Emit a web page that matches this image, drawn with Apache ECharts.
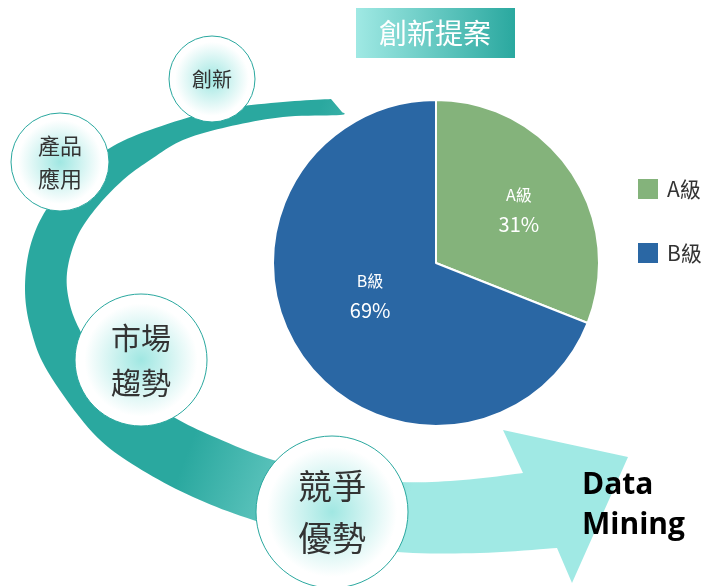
<!DOCTYPE html>
<html><head><meta charset="utf-8">
<script src="https://cdn.jsdelivr.net/npm/echarts@6/dist/echarts.min.js"></script>
<style>html,body{margin:0;padding:0;background:#fff}#c{width:711px;height:586px}</style>
</head><body><div id="c"></div>
<script>
// ---- data ----
const categories = ['A級', 'B級'];
const shares = [31, 69];
const titleText = '創新提案';
const bubbleLabels = ['創新', '產品\n應用', '市場\n趨勢', '競爭\n優勢'];
const arrowLabel = 'Data\nMining';

// ---- decorative layout ----
const FONT = '"Noto Sans CJK TC","Noto Sans CJK SC",sans-serif';
const bubbleLayout = [
  {x: 212, y: 79, r: 43, fs: 20, lh: 30},
  {x: 60, y: 162, r: 49, fs: 22, lh: 33},
  {x: 141, y: 360, r: 66, fs: 30, lh: 45},
  {x: 332, y: 512, r: 76, fs: 34, lh: 52}
];
const outerEdge = [[331,99],[283,102],[217,110],[150,130],[110,148],[75,175],[46,210],[30,247],[25,290],[31,330],[48,372],[93,433],[137,467],[193,497],[253,520],[325,540],[397,552],[480,553],[557,548]];
const arrowHead = [[572,583],[628,457],[503,430]];
const innerEdge = [[523,473],[463,480],[400,482],[335,474],[273,460],[212,436],[168,414],[130,388],[102,362],[82,334],[70,305],[67,273],[77,237],[97,207],[123,180],[150,160],[183,140],[227,127],[283,117],[340,115],[342,112]];

function splinePts(p) {
  const out = [p[0]];
  for (let i = 0; i < p.length - 1; i++) {
    const p0 = p[Math.max(i - 1, 0)], p1 = p[i], p2 = p[i + 1], p3 = p[Math.min(i + 2, p.length - 1)];
    const c1 = [p1[0] + (p2[0] - p0[0]) / 6, p1[1] + (p2[1] - p0[1]) / 6];
    const c2 = [p2[0] - (p3[0] - p1[0]) / 6, p2[1] - (p3[1] - p1[1]) / 6];
    for (let k = 1; k <= 10; k++) {
      const t = k / 10, u = 1 - t;
      out.push([
        u*u*u*p1[0] + 3*u*u*t*c1[0] + 3*u*t*t*c2[0] + t*t*t*p2[0],
        u*u*u*p1[1] + 3*u*u*t*c1[1] + 3*u*t*t*c2[1] + t*t*t*p2[1]
      ]);
    }
  }
  return out;
}
const shapePts = splinePts(outerEdge).concat(arrowHead, splinePts(innerEdge));

const graphics = [{
  type: 'polygon', z: 0,
  shape: {points: shapePts},
  style: {
    fill: {type: 'linear', x: 140, y: 420, x2: 400, y2: 520, global: true,
      colorStops: [{offset: 0, color: '#2aa89f'}, {offset: 0.2, color: '#2aa89f'}, {offset: 1, color: '#a0e9e4'}]}
  }
}];
bubbleLayout.forEach((b, i) => {
  graphics.push({
    type: 'circle', z: 10,
    shape: {cx: b.x, cy: b.y, r: b.r},
    style: {
      fill: {type: 'radial', x: 0.5, y: 0.5, r: 0.5,
        colorStops: [{offset: 0, color: '#a0e7e2'}, {offset: 0.85, color: '#ffffff'}, {offset: 1, color: '#ffffff'}]},
      stroke: '#2aa89f', lineWidth: 1
    }
  });
  graphics.push({
    type: 'text', z: 11, x: b.x, y: b.y,
    style: {text: bubbleLabels[i], fill: '#333', font: `${b.fs}px ${FONT}`,
      align: 'center', verticalAlign: 'middle', lineHeight: b.lh}
  });
});
graphics.push({
  type: 'text', z: 11, x: 582, y: 505,
  style: {text: arrowLabel, fill: '#000', font: 'bold 30px "Open Sans", "Noto Sans", sans-serif',
    align: 'left', verticalAlign: 'middle', lineHeight: 40}
});

const chart = echarts.init(document.getElementById('c'));
chart.setOption({
  backgroundColor: '#fff',
  animation: false,
  title: {
    text: titleText, left: 356, top: 8,
    padding: [10, 24, 10, 23],
    backgroundColor: {type: 'linear', x: 0, y: 0, x2: 1, y2: 0,
      colorStops: [{offset: 0, color: '#a0e9e4'}, {offset: 1, color: '#2aa89f'}]},
    textStyle: {color: '#fff', fontSize: 28, fontWeight: 'normal', fontFamily: FONT, lineHeight: 30}
  },
  legend: {
    orient: 'vertical', left: 631, top: 172,
    itemWidth: 22, itemHeight: 22, itemGap: 40, icon: 'rect',
    textStyle: {fontSize: 21, color: '#333', fontFamily: FONT, padding: [0, 0, 0, 3]},
    data: categories
  },
  graphic: graphics,
  series: [{
    type: 'pie', center: [436, 263], radius: 163, startAngle: 90, clockwise: true,
    z: 5,
    itemStyle: {borderColor: '#fff', borderWidth: 2},
    label: {
      position: 'inside', color: '#fff', formatter: '{n|{b}}\n{p|{d}%}',
      rich: {
        n: {fontSize: 16, color: '#fff', lineHeight: 30, fontFamily: FONT},
        p: {fontSize: 20, color: '#fff', lineHeight: 30, fontFamily: FONT}
      }
    },
    labelLayout: function (p) {
      return p.dataIndex === 0 ? {dx: 13, dy: -6} : {dx: 4, dy: -15};
    },
    emphasis: {disabled: true},
    data: categories.map((c, i) => ({name: c, value: shares[i],
      itemStyle: {color: i === 0 ? '#84b37b' : '#2a67a4'}}))
  }]
});
</script></body></html>
